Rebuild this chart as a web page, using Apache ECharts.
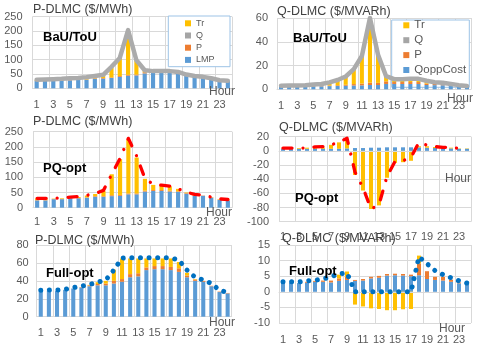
<!DOCTYPE html>
<html>
<head>
<meta charset="utf-8">
<script src="https://cdn.jsdelivr.net/npm/echarts@6/dist/echarts.min.js"></script>
<style>
  html, body { margin: 0; padding: 0; background: #fff; }
  #chart { width: 478px; height: 345px; }
</style>
</head>
<body>
<div id="chart"></div>
<script>
// Hours of the day
const hours = ['1','2','3','4','5','6','7','8','9','10','11','12','13','14','15','16','17','18','19','20','21','22','23','24'];

// P-DLMC, BaU/ToU
const lmpBau  = [26,26,26,27,28,29,30,33,34,36,40,44,45,52,54,54,54,53,45,42,40,35,28,26];
const pBau    = [1,1,1,1,1,1,1,2,2,2,3,3,3,4,2,2,2,2,1,1,1,1,0,0];
const qBau    = [0,0,0,0,0,0,0,0,0,0,0,0,0,0,0,0,0,0,0,0,0,0,0,0];
const trBau   = [2,2,2,3,3,3,4,5,8,35,63,140,50,5,2,2,2,1,1,0,0,0,0,0];
const totBau  = [30,31,32,33,35,36,39,43,47,75,106,203,98,63,60,60,60,57,48,43,40,35,28,26];

// Q-DLMC, BaU/ToU
const qoppBau  = [2.5,2.5,2.5,2.5,2.5,2.5,2.7,2.8,3,3.2,3.3,3.6,3.6,4.5,4.5,4.5,4.5,4.5,3.6,3.5,3.4,3,2.6,2.5];
const pQBau    = [0.3,0.3,0.3,0.3,0.4,0.4,0.5,0.6,0.8,1.2,1.5,2,1.8,2.2,1.6,1.6,1.6,1.6,1.2,1,0.8,0.6,0.4,0.3];
const qQBau    = [0,0,0,0,0,0,0,0,0,0,0,0,0,0,0,0,0,0,0,0,0,0,0,0];
const trQBau   = [0,0,0,0.2,0.5,1,2.5,4,6.5,12,23,50,23,4,2,2,2.2,2.3,1.8,1.2,1,0.6,0.3,0];
const totQBau  = [3,3.1,3.3,3.5,4,4.5,5.8,7.8,10.8,17,28,60,29,11,8.5,8.5,8.8,8.8,7.2,6,5.5,4.5,3.5,2.8];

// P-DLMC, PQ-opt
const lmpPq  = [24,24,28,28,31,31,33,36,36,38,39,44,44,53,55,55,53,52,46,39,39,33,26,24];
const pPq    = [1,1,1,1,1,1,1,2,2,3,3,3,3,3,3,3,3,2,2,1,1,1,0.5,0.5];
const qPq    = [0,0,0,0,0,0,0,0,0,0,0,0,0,0,0,0,0,0,0,0,0,0,0,0];
const trPq   = [5,5,1,2,1,3,6,7,17,69,118,178,118,39,17,17,14,8,2,2,0,1,1.5,2.5];
const totPq  = [31,31,31,32,35,37,41,46,57,110,162,228,170,96,77,74,71,62,51,44,41,35,29,27];

// Q-DLMC, PQ-opt
const qoppPq  = [3,3,3,3,3,3,3,3,3.5,4,4,4.5,4.5,5,5,5,5,5,4.5,4,4,3.5,3,3];
const pQPq    = [0,0,0,0,0,0,0,0,0,0,0,0,0,0,0,0,0,0,0,0,0,0,0,0];
const qQPq    = [0,0,0,0,0,0,0,0,0,0,0,0,0,0,0,0,0,0,0,0,0,0,0,0];
const trQPq   = [0.5,0.5,1,1.5,1.5,1.5,5.5,9,13,-34,-56,-82,-77,-38,-17,-16,-14,1.5,2,1.5,1.5,1,0.5,0.5];
const totQPq  = [4,4,4,4,5.5,6,8.5,12,18,-30,-52,-82,-76,-36,-15,-14,-9,12,8,6,5,5,3.5,3];

// P-DLMC, Full-opt
const lmpFull  = [29,29,29,30,31.5,32.5,34,35,35,37,39,44,45,52,53,53,52,50,44,40,39,34,27.5,26];
const pFull    = [0,0,0,0,0,0.5,1,1.5,2,3,3,3.5,3.5,3,3.5,3.5,3.5,4,2,1.5,1,0.5,0.5,0.5];
const qFull    = [0,0,0,0,0,0,0,0,0,0,0,0,0,0,0,0,0,0,0,0,0,0,0,0];
const trFull   = [0,0,0,0,0,0,0.5,2,3,12.5,23,17.5,16.5,10,8.5,8.5,9.5,7,3,0.5,0,0,0,0];
const totFull  = [29.5,29.7,29.8,30.5,32.5,34,36,38.5,41,52,65.5,65.8,65.8,65.8,65.8,65.8,65.8,63,52,44,41,37,29.5,27];

// Q-DLMC, Full-opt
const qoppFull  = [2.9,2.9,2.8,2.9,3.2,3.2,3,3.5,3.8,3.5,3.6,4.3,4.5,5.2,5.3,5.2,5,5.3,4.1,3.8,3.6,3.2,2.7,2.5];
const pQFull    = [0,0,0,0.3,0.3,0.4,0.6,0.8,1,0.3,0.5,0.5,0.6,0.5,0.5,0.5,0.5,3.8,2.5,1,1.2,0.7,0.3,0.3];
const qQFull    = [0,0,0,0,0,0,0,0,0,0,0,0,0,0,0,0,0,0,0,0,0,0,0,0];
const trQFull   = [0,0,0,0,0,0,0,1.2,1.7,-4.1,-4.7,-5.3,-5.5,-5.9,-5.9,-5.6,-5.5,2.5,0,0,0,0,0,0];
const totQFull  = [3.2,3.2,3.2,3.5,3.7,4.1,4.8,5.8,6,0,0,0,0,0,0,0,0,11.2,9,6.8,5.5,4.5,3.5,2.8];

const FONT = '"Liberation Sans", Arial, sans-serif';
const GRID_COLOR = '#D9D9D9';
const TEXT_COLOR = '#595959';
const COLORS = { base: '#5B9BD5', p: '#ED7D31', q: '#A5A5A5', tr: '#FFC000' };

// line looks
const LINE_GRAY = { color: '#ABABAB', width: 4.5, cap: 'round', join: 'round' };
const LINE_RED = { color: '#FF0000', width: 3.3, type: [9, 11, 0.01, 11], cap: 'round', join: 'round' };
const LINE_DOTS = { color: '#0070C0', width: 5, type: [0.01, 8.6], cap: 'round', join: 'round' };

const panels = [
    { grid: { left: 32.5, top: 16.7, width: 199.5, height: 71.6 }, min: 0, max: 250, step: 50, margin: 11, yMargin: 10, axisZ: 0,
      baseName: 'LMP', base: lmpBau, p: pBau, q: qBau, tr: trBau, total: totBau, line: LINE_GRAY },
    { grid: { left: 277, top: 18, width: 194, height: 71.3 }, min: 0, max: 60, step: 20, margin: 11, yMargin: 9, axisZ: 0,
      baseName: 'QoppCost', base: qoppBau, p: pQBau, q: qQBau, tr: trQBau, total: totQBau, line: LINE_GRAY },
    { grid: { left: 33, top: 131.7, width: 199, height: 76 }, min: 0, max: 250, step: 50, margin: 9, yMargin: 10, axisZ: 0,
      baseName: 'LMP', base: lmpPq, p: pPq, q: qPq, tr: trPq, total: totPq, line: LINE_RED },
    { grid: { left: 279, top: 136.7, width: 192, height: 85 }, min: -100, max: 20, step: 20, margin: 10, yMargin: 10, axisZ: 3,
      baseName: 'QoppCost', base: qoppPq, p: pQPq, q: qQPq, tr: trQPq, total: totQPq, line: LINE_RED },
    { grid: { left: 36.7, top: 245, width: 195, height: 71.7 }, min: 0, max: 80, step: 20, margin: 11, yMargin: 8, axisZ: 0,
      baseName: 'LMP', base: lmpFull, p: pFull, q: qFull, tr: trFull, total: totFull, line: LINE_DOTS },
    { grid: { left: 279, top: 245, width: 192, height: 92.3 }, min: -10, max: 15, step: 5, margin: 11, yMargin: 9, axisZ: 3,
      baseName: 'QoppCost', base: qoppFull, p: pQFull, q: qQFull, tr: trQFull, total: totQFull, line: LINE_DOTS }
];

// Texts around each panel
const titles = [
    { text: 'P-DLMC ($/MWh)', x: 33, y: 10 },
    { text: 'Q-DLMC ($/MVARh)', x: 277, y: 12 },
    { text: 'P-DLMC ($/MWh)', x: 33, y: 122 },
    { text: 'Q-DLMC ($/MVARh)', x: 279, y: 128 },
    { text: 'P-DLMC ($/MWh)', x: 35, y: 240.5 },
    { text: 'Q-DLMC ($/MVARh)', x: 282, y: 238.7 }
];
const caseLabels = [
    { text: 'BaU/ToU', x: 43, y: 37.5 },
    { text: 'BaU/ToU', x: 293, y: 38.2 },
    { text: 'PQ-opt', x: 43, y: 168.5 },
    { text: 'PQ-opt', x: 295, y: 198.3 },
    { text: 'Full-opt', x: 46, y: 273 },
    { text: 'Full-opt', x: 289, y: 271.3 }
];
const hourLabels = [
    { x: 235, y: 92 }, { x: 473, y: 99 }, { x: 232, y: 212.5 },
    { x: 471, y: 179 }, { x: 235, y: 322.5 }, { x: 465, y: 329 }
];
// legend frames (white boxes behind the legend items)
const legendBoxes = [
    { x: 168.3, y: 16, w: 61.7, h: 50.7 },
    { x: 391.7, y: 20, w: 77.6, h: 67.3 }
];

function buildOption() {
    const grid = [], xAxis = [], yAxis = [], series = [], graphic = [];

    panels.forEach((pn, i) => {
        grid.push(pn.grid);
        xAxis.push({
            type: 'category', gridIndex: i, data: hours, z: pn.axisZ,
            axisTick: { show: false },
            axisLine: { onZero: true, lineStyle: { color: GRID_COLOR } },
            splitLine: { show: true, lineStyle: { color: GRID_COLOR } },
            axisLabel: { interval: 1, margin: pn.margin, fontSize: 11, color: TEXT_COLOR, fontFamily: FONT }
        });
        yAxis.push({
            type: 'value', gridIndex: i, min: pn.min, max: pn.max, interval: pn.step,
            axisLine: { show: false }, axisTick: { show: false },
            splitLine: { lineStyle: { color: GRID_COLOR } },
            axisLabel: { margin: pn.yMargin, fontSize: 11, color: TEXT_COLOR, fontFamily: FONT }
        });

        const stack = 'stack' + i;
        const bar = (name, data, color) => ({
            name: name, type: 'bar', stack: stack, xAxisIndex: i, yAxisIndex: i,
            data: data, barWidth: '50%', itemStyle: { color: color }, silent: true
        });
        series.push(bar(pn.baseName, pn.base, COLORS.base));
        series.push(bar('P', pn.p, COLORS.p));
        series.push(bar('Q', pn.q, COLORS.q));
        series.push(bar('Tr', pn.tr, COLORS.tr));
        series.push({
            name: 'DLMC', type: 'line', xAxisIndex: i, yAxisIndex: i, data: pn.total,
            symbol: 'none', z: 4, silent: true, lineStyle: pn.line
        });
    });

    legendBoxes.forEach(b => graphic.push({
        type: 'rect', z: 1, silent: true,
        shape: { x: b.x, y: b.y, width: b.w, height: b.h },
        style: { fill: '#ffffff', stroke: '#9DC3E6', lineWidth: 1 }
    }));
    titles.forEach(t => graphic.push({
        type: 'text', x: t.x, y: t.y, z: 10, silent: true,
        style: { text: t.text, font: '12.5px ' + FONT, fill: '#404040', verticalAlign: 'middle' }
    }));
    caseLabels.forEach(t => graphic.push({
        type: 'text', x: t.x, y: t.y, z: 10, silent: true,
        style: { text: t.text, font: 'bold 13px ' + FONT, fill: '#000000', verticalAlign: 'middle' }
    }));
    hourLabels.forEach(t => graphic.push({
        type: 'text', x: t.x, y: t.y, z: 10, silent: true,
        style: { text: 'Hour', font: '12px ' + FONT, fill: TEXT_COLOR, align: 'right', verticalAlign: 'middle' }
    }));

    const legendBase = {
        orient: 'vertical', icon: 'rect', itemWidth: 6, itemHeight: 6,
        padding: 0, selectedMode: false, z: 5
    };
    const legend = [
        Object.assign({}, legendBase, {
            data: ['Tr', 'Q', 'P', 'LMP'], left: 185, top: 18.8, itemGap: 3.2,
            textStyle: { fontSize: 9, lineHeight: 9, color: TEXT_COLOR, fontFamily: FONT }
        }),
        Object.assign({}, legendBase, {
            data: ['Tr', 'Q', 'P', 'QoppCost'], left: 403.3, top: 19.3, itemGap: 2.9,
            textStyle: { fontSize: 11.5, lineHeight: 12, color: TEXT_COLOR, fontFamily: FONT }
        })
    ];

    return { animation: false, backgroundColor: '#ffffff', grid, xAxis, yAxis, series, graphic, legend };
}

const chart = echarts.init(document.getElementById('chart'), null, { renderer: 'canvas' });
chart.setOption(buildOption());
window.addEventListener('resize', () => chart.resize());
</script>
</body>
</html>
